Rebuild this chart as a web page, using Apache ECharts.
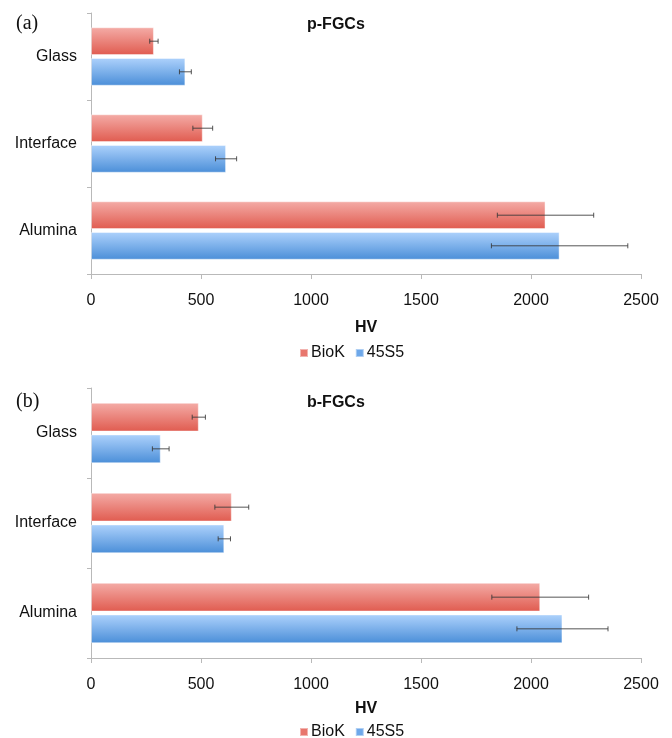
<!DOCTYPE html>
<html>
<head>
<meta charset="utf-8">
<script src="https://cdn.jsdelivr.net/npm/echarts@6/dist/echarts.min.js"></script>
<style>
  html, body { margin: 0; padding: 0; background: #fff; }
  #chart { width: 672px; height: 738px; }
</style>
</head>
<body>
<div id="chart"></div>
<script>
// Vickers hardness (HV) across the graded zones of the two glass-ceramic sets
const categories = ['Glass', 'Interface', 'Alumina'];
const xTicks = [0, 500, 1000, 1500, 2000, 2500];

// (a) p-FGCs
const pBioK = [286, 508, 2066];
const pBioKErr = [19, 45, 219];
const p45S5 = [429, 614, 2130];
const p45S5Err = [27, 48, 310];

// (b) b-FGCs
const bBioK = [490, 640, 2042];
const bBioKErr = [30, 77, 220];
const b45S5 = [317, 606, 2143];
const b45S5Err = [38, 28, 207];

const BAR_W = 0.32;   // bar thickness as a share of the category band
const BAR_GAP = 0.10; // gap between the two bars, share of bar thickness

const font = 'Liberation Sans, Arial, Helvetica, sans-serif';

const redFill = new echarts.graphic.LinearGradient(0, 0, 0, 1, [
  { offset: 0, color: '#f4aca7' },
  { offset: 1, color: '#e05b4f' }
]);
const blueFill = new echarts.graphic.LinearGradient(0, 0, 0, 1, [
  { offset: 0, color: '#aed2fc' },
  { offset: 1, color: '#4a8ed8' }
]);

function errData(vals, errs) {
  return vals.map((v, i) => [i, v - errs[i], v + errs[i]]);
}

// whiskers centred on each bar of a pair; side = -1 for the upper bar, +1 for the lower one
function whisker(side) {
  return function (params, api) {
    const cat = api.value(0);
    const lo = api.coord([api.value(1), cat]);
    const hi = api.coord([api.value(2), cat]);
    const band = api.size([0, 1])[1];
    const y = lo[1] + side * band * BAR_W * (1 + BAR_GAP) / 2;
    const cap = 2.5;
    const style = { stroke: 'rgba(55,55,55,0.85)', lineWidth: 1 };
    return {
      type: 'group',
      children: [
        { type: 'line', shape: { x1: lo[0], y1: y, x2: hi[0], y2: y }, style },
        { type: 'line', shape: { x1: lo[0], y1: y - cap, x2: lo[0], y2: y + cap }, style },
        { type: 'line', shape: { x1: hi[0], y1: y - cap, x2: hi[0], y2: y + cap }, style }
      ]
    };
  };
}

function xAxisFor(gridIndex, nameGap) {
  return {
    type: 'value', gridIndex,
    min: xTicks[0], max: xTicks[xTicks.length - 1], interval: xTicks[1] - xTicks[0],
    name: 'HV', nameLocation: 'middle', nameGap,
    nameTextStyle: { fontFamily: font, fontSize: 16, fontWeight: 'bold', color: '#111' },
    axisLine: { show: true, lineStyle: { color: '#b9b9b9', width: 1 } },
    axisTick: { show: true, length: 5, lineStyle: { color: '#b9b9b9' } },
    axisLabel: { margin: 19, fontFamily: font, fontSize: 16, color: '#111', formatter: v => String(v) },
    splitLine: { show: false }
  };
}

function yAxisFor(gridIndex) {
  return {
    type: 'category', gridIndex, data: categories, inverse: true,
    axisLine: { show: true, lineStyle: { color: '#b9b9b9', width: 1 } },
    axisTick: { show: true, length: 4, lineStyle: { color: '#b9b9b9' } },
    axisLabel: { margin: 14, fontFamily: font, fontSize: 16, color: '#111' }
  };
}

function barSeries(name, idx, data, fill) {
  return {
    name, type: 'bar', xAxisIndex: idx, yAxisIndex: idx, data,
    barWidth: (BAR_W * 100) + '%', barGap: (BAR_GAP * 100) + '%',
    itemStyle: { color: fill, borderColor: 'rgba(255,255,255,0.45)', borderWidth: 1 }
  };
}

function errSeries(idx, vals, errs, side) {
  return {
    type: 'custom', xAxisIndex: idx, yAxisIndex: idx, z: 5,
    renderItem: whisker(side), data: errData(vals, errs),
    encode: { x: [1, 2], y: 0 }, silent: true
  };
}

const legendBase = {
  data: [
    { name: 'BioK', itemStyle: { color: '#e8766d' } },
    { name: '45S5', itemStyle: { color: '#6ea8ea' } }
  ],
  icon: 'rect', itemWidth: 8, itemHeight: 8, itemGap: 10,
  textStyle: { fontFamily: font, fontSize: 16, color: '#111', padding: [0, 0, 0, -2] },
  selectedMode: false
};

const chart = echarts.init(document.getElementById('chart'), null, { renderer: 'canvas' });
chart.setOption({
  backgroundColor: '#fff',
  animation: false,
  title: [
    { text: '(a)', left: 11, top: 9, textStyle: { fontFamily: 'Liberation Serif, Times New Roman, serif', fontSize: 20, fontWeight: 'normal', color: '#111' } },
    { text: 'p-FGCs', left: 302, top: 12, textStyle: { fontFamily: font, fontSize: 16, fontWeight: 'bold', color: '#111' } },
    { text: '(b)', left: 11, top: 387, textStyle: { fontFamily: 'Liberation Serif, Times New Roman, serif', fontSize: 20, fontWeight: 'normal', color: '#111' } },
    { text: 'b-FGCs', left: 302, top: 390, textStyle: { fontFamily: font, fontSize: 16, fontWeight: 'bold', color: '#111' } }
  ],
  legend: [
    Object.assign({ left: 294, top: 340 }, legendBase),
    Object.assign({ left: 294, top: 719 }, legendBase)
  ],
  grid: [
    { left: 91, right: 31, top: 13, height: 261 },
    { left: 91, right: 31, top: 388, height: 270 }
  ],
  xAxis: [xAxisFor(0, 46), xAxisFor(1, 43)],
  yAxis: [yAxisFor(0), yAxisFor(1)],
  series: [
    barSeries('BioK', 0, pBioK, redFill),
    barSeries('45S5', 0, p45S5, blueFill),
    barSeries('BioK', 1, bBioK, redFill),
    barSeries('45S5', 1, b45S5, blueFill),
    errSeries(0, pBioK, pBioKErr, -1),
    errSeries(0, p45S5, p45S5Err, 1),
    errSeries(1, bBioK, bBioKErr, -1),
    errSeries(1, b45S5, b45S5Err, 1)
  ]
});
</script>
</body>
</html>
